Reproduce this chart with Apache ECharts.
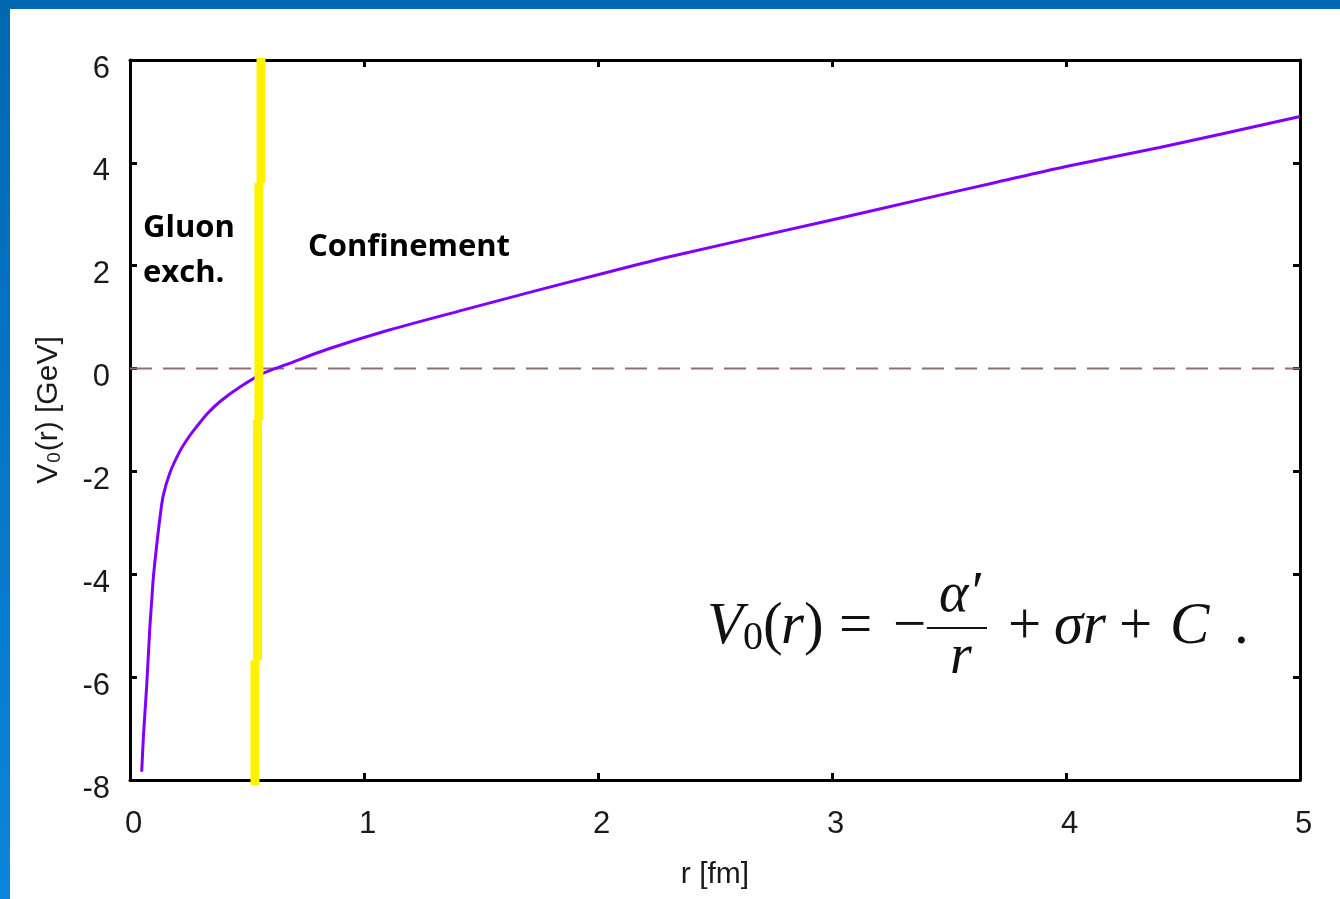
<!DOCTYPE html>
<html>
<head>
<meta charset="utf-8">
<script src="https://cdn.jsdelivr.net/npm/echarts@6/dist/echarts.min.js"></script>
<style>
  html, body { margin: 0; padding: 0; background: #fff; }
  #chart { width: 1340px; height: 899px; }
</style>
</head>
<body>
<div id="chart"></div>
<script>
// Static quark-antiquark potential V0(r)
const rValues = [0.050, 0.058, 0.071, 0.085, 0.093, 0.100, 0.114, 0.128, 0.142, 0.171, 0.214, 0.250, 0.285, 0.330, 0.385, 0.470, 0.570, 0.670, 0.840, 1.100, 1.450, 1.740, 2.020, 2.310, 2.970, 3.400, 3.690, 4.000, 4.400, 5.000];
const vValues = [-7.84, -7.10, -6.19, -5.02, -4.50, -4.05, -3.44, -2.90, -2.47, -2.02, -1.60, -1.34, -1.13, -0.88, -0.64, -0.36, -0.09, 0.08, 0.37, 0.74, 1.17, 1.52, 1.85, 2.18, 2.86, 3.31, 3.61, 3.93, 4.30, 4.90];

// Axis ranges and tick steps
const xTicks = [0, 1, 2, 3, 4, 5];
const yTicks = [-8, -6, -4, -2, 0, 2, 4, 6];

// Boundary between the gluon-exchange and confinement regions (hand-drawn, slightly stepped)
const boundaryR = [0.560, 0.551, 0.545, 0.534];
const boundaryV = [6.04, 3.61, -1.0, -5.67, -8.10];

// Reference level V = 0
const zeroLevel = 0;

const curveData = rValues.map((r, i) => [r, vValues[i]]);
const boundarySeries = boundaryR.map((r, i) => ({
  type: 'line',
  data: [[r, boundaryV[i]], [r, boundaryV[i + 1]]],
  showSymbol: false,
  clip: false,
  silent: true,
  z: 5,
  lineStyle: { color: '#fff200', width: 9, cap: 'butt' }
}));

const axisBase = {
  type: 'value',
  splitLine: { show: false },
  axisLine: { show: true, onZero: false, lineStyle: { color: '#000', width: 3 } },
  axisTick: { show: true, inside: true, length: 7, lineStyle: { color: '#000', width: 3 } }
};
const labelFont = { fontFamily: 'Liberation Sans, Arial, sans-serif', fontSize: 31, color: '#1a1a1a' };

const serif = 'Liberation Serif, Times New Roman, serif';
function mathText(str, x, y, size, italic) {
  return {
    type: 'text', z: 10, silent: true,
    style: {
      text: str, x: x, y: y,
      font: (italic ? 'italic ' : '') + size + 'px ' + serif,
      fill: '#111', textVerticalAlign: 'middle'
    }
  };
}
function annot(str, x, y) {
  return {
    type: 'text', z: 10, silent: true,
    style: { text: str, x: x, y: y, font: 'bold 31px "Open Sans", Lato, sans-serif', fill: '#000', textVerticalAlign: 'middle' }
  };
}

const chart = echarts.init(document.getElementById('chart'), null, { renderer: 'canvas' });
chart.setOption({
  animation: false,
  backgroundColor: '#fff',
  grid: { left: 130, right: 40, top: 60, bottom: 119, containLabel: false },
  xAxis: [
    Object.assign({}, axisBase, {
      position: 'bottom',
      min: xTicks[0], max: xTicks[xTicks.length - 1], interval: xTicks[1] - xTicks[0],
      axisLabel: Object.assign({ margin: 29, padding: [0, 0, 0, 7] }, labelFont),
      name: 'r [fm]', nameLocation: 'middle', nameGap: 80,
      nameTextStyle: Object.assign({}, labelFont, { fontSize: 30 })
    }),
    Object.assign({}, axisBase, {
      position: 'top',
      min: xTicks[0], max: xTicks[xTicks.length - 1], interval: xTicks[1] - xTicks[0],
      axisLabel: { show: false }
    })
  ],
  yAxis: [
    Object.assign({}, axisBase, {
      position: 'left',
      min: yTicks[0], max: yTicks[yTicks.length - 1], interval: yTicks[1] - yTicks[0],
      axisLabel: {
        margin: 20,
        formatter: '{t|{value}}',
        rich: { t: Object.assign({ padding: [18, 0, 0, 0] }, labelFont) }
      },
      name: 'V\u2080(r) [GeV]', nameLocation: 'middle', nameGap: 66,
      nameTextStyle: Object.assign({}, labelFont, { fontSize: 30, padding: [0, 0, 0, 20] })
    }),
    Object.assign({}, axisBase, {
      position: 'right',
      min: yTicks[0], max: yTicks[yTicks.length - 1], interval: yTicks[1] - yTicks[0],
      axisLabel: { show: false }
    })
  ],
  series: [
    {
      type: 'line',
      data: [[xTicks[0], zeroLevel], [xTicks[xTicks.length - 1], zeroLevel]],
      showSymbol: false, silent: true, z: 2,
      lineStyle: { color: '#8f7070', width: 2, type: [22, 11] }
    },
    {
      type: 'line',
      data: curveData,
      showSymbol: false, silent: true, z: 3,
      smooth: 0.3,
      lineStyle: { color: '#8000ff', width: 3 }
    }
  ].concat(boundarySeries),
  graphic: [
    // slide frame
    { type: 'rect', z: 20, silent: true, shape: { x: 0, y: 0, width: 1340, height: 9 }, style: { fill: '#0068b1' } },
    { type: 'rect', z: 20, silent: true, shape: { x: 0, y: 0, width: 10, height: 899 },
      style: { fill: new echarts.graphic.LinearGradient(0, 0, 0, 1, [{ offset: 0, color: '#0068b1' }, { offset: 1, color: '#0a86dc' }]) } },
    // region labels
    annot('Gluon', 143, 228),
    annot('exch.', 143, 273),
    annot('Confinement', 308, 247),
    // V0(r) = -alpha'/r + sigma r + C .
    mathText('V', 707, 627, 59, true),
    mathText('0', 743, 638, 40, false),
    mathText('(', 763, 627, 59, false),
    mathText('r', 781, 627, 59, true),
    mathText(')', 804, 627, 59, false),
    mathText('=', 839, 627, 59, false),
    mathText('\u2212', 893, 627, 59, false),
    { type: 'line', z: 10, silent: true, shape: { x1: 927, y1: 628, x2: 987, y2: 628 }, style: { stroke: '#111', lineWidth: 2 } },
    mathText('\u03b1\u2032', 939, 596, 56, true),
    mathText('r', 950, 658, 56, true),
    mathText('+', 1008, 627, 59, false),
    mathText('\u03c3r', 1054, 627, 59, true),
    mathText('+', 1119, 627, 59, false),
    mathText('C', 1170, 627, 59, true),
    mathText('.', 1234, 627, 59, false)
  ]
});
</script>
</body>
</html>
